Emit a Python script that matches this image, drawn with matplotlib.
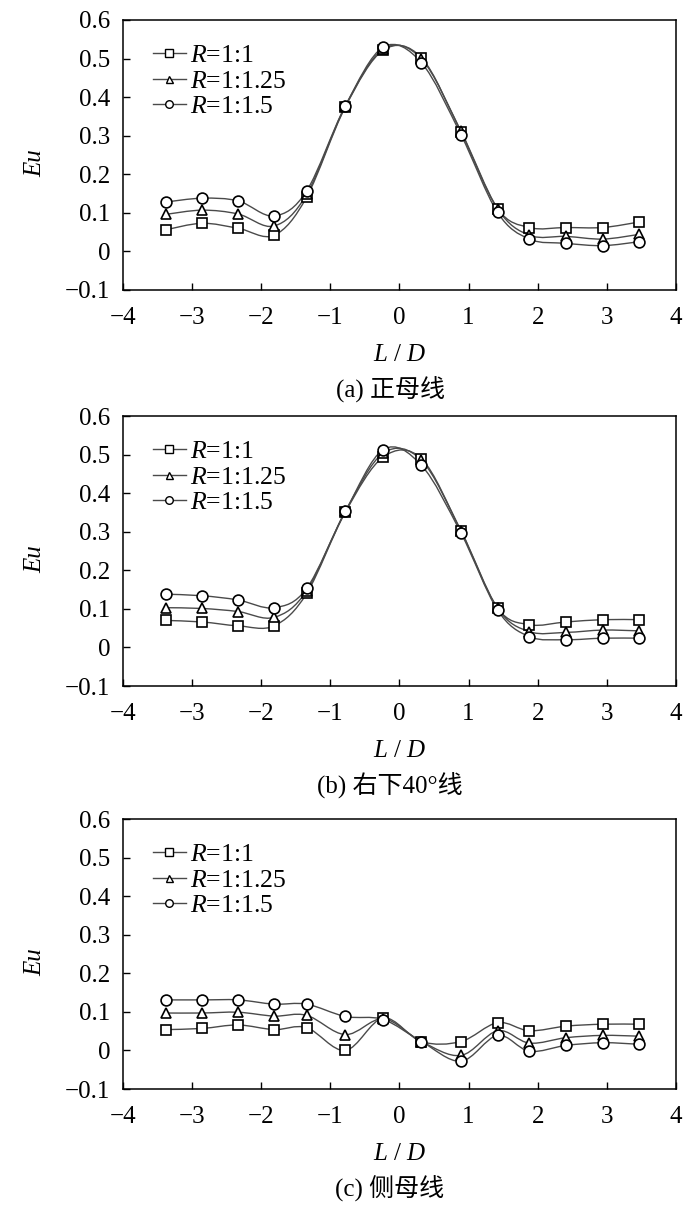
import numpy as np
import matplotlib
matplotlib.use("Agg")
import matplotlib.pyplot as plt
from matplotlib.path import Path
from matplotlib.patches import PathPatch
from matplotlib.lines import Line2D

plt.rcParams['font.family'] = ['Liberation Serif', 'Noto Sans CJK SC']
plt.rcParams['mathtext.fontset'] = 'custom'
plt.rcParams['mathtext.it'] = 'Liberation Serif:italic'
plt.rcParams['mathtext.rm'] = 'Liberation Serif'

# ---------------- data ----------------
x_pos = [-3.38, -2.85, -2.33, -1.81, -1.34, -0.78, -0.23, 0.32, 0.89, 1.42, 1.88, 2.41, 2.94, 3.46]

series_labels = ['$R$=1:1', '$R$=1:1.25', '$R$=1:1.5']

a_r1 = [0.056, 0.073, 0.060, 0.042, 0.141, 0.375, 0.522, 0.502, 0.310, 0.111, 0.062, 0.062, 0.062, 0.076]
a_r125 = [0.096, 0.107, 0.097, 0.066, 0.148, 0.377, 0.525, 0.499, 0.312, 0.111, 0.042, 0.039, 0.032, 0.044]
a_r15 = [0.128, 0.138, 0.131, 0.092, 0.157, 0.378, 0.530, 0.489, 0.303, 0.101, 0.032, 0.021, 0.015, 0.025]

b_r1 = [0.070, 0.066, 0.056, 0.056, 0.140, 0.351, 0.494, 0.489, 0.302, 0.102, 0.059, 0.066, 0.072, 0.072]
b_r125 = [0.103, 0.101, 0.093, 0.078, 0.147, 0.353, 0.504, 0.485, 0.303, 0.102, 0.041, 0.039, 0.045, 0.043]
b_r15 = [0.138, 0.134, 0.123, 0.103, 0.153, 0.353, 0.513, 0.472, 0.297, 0.097, 0.028, 0.020, 0.024, 0.024]

c_r1 = [0.054, 0.057, 0.066, 0.054, 0.059, 0.000, 0.084, 0.023, 0.023, 0.072, 0.051, 0.063, 0.068, 0.068]
c_r125 = [0.097, 0.097, 0.099, 0.089, 0.091, 0.041, 0.082, 0.023, -0.013, 0.051, 0.019, 0.033, 0.039, 0.037]
c_r15 = [0.131, 0.131, 0.131, 0.120, 0.120, 0.088, 0.080, 0.023, -0.028, 0.039, -0.002, 0.013, 0.020, 0.016]

captions = ['(a) 正母线', '(b) 右下40°线', '(c) 侧母线']
x_ticks = [-4, -3, -2, -1, 0, 1, 2, 3, 4]
y_ticks = [-0.1, 0, 0.1, 0.2, 0.3, 0.4, 0.5, 0.6]
y_ticklabels = ['\u22120.1', '0', '0.1', '0.2', '0.3', '0.4', '0.5', '0.6']
x_ticklabels = ['\u22124', '\u22123', '\u22122', '\u22121', '0', '1', '2', '3', '4']

panels = [(a_r1, a_r125, a_r15), (b_r1, b_r125, b_r15), (c_r1, c_r125, c_r15)]

# ---------------- style ----------------
W, H = 700, 1211
markers = ['s', '^', 'o']
msizes = [7.4, 7.2, 7.8]
line_color = '#4a4a4a'
panel_tops = [20, 416, 819]
ax_left, ax_right, ax_h = 122.7, 676.0, 270.0


def smooth_path(x, y):
    pts = np.column_stack([x, y]).astype(float)
    n = len(pts)
    verts = [pts[0]]
    codes = [Path.MOVETO]
    for i in range(n - 1):
        p0 = pts[i - 1] if i > 0 else pts[i]
        p1 = pts[i]
        p2 = pts[i + 1]
        p3 = pts[i + 2] if i + 2 < n else pts[i + 1]
        c1 = p1 + (p2 - p0) / 6.0
        c2 = p2 - (p3 - p1) / 6.0
        verts += [c1, c2, p2]
        codes += [Path.CURVE4] * 3
    return Path(np.array(verts), codes)


fig = plt.figure(figsize=(W / 100, H / 100), dpi=100)

for k, (series, top) in enumerate(zip(panels, panel_tops)):
    bottom = top + ax_h
    ax = fig.add_axes([ax_left / W, 1 - bottom / H, (ax_right - ax_left) / W, ax_h / H])
    ax.set_xlim(-4, 4)
    ax.set_ylim(-0.1, 0.6)
    for ys in series:
        patch = PathPatch(smooth_path(x_pos, ys), facecolor='none', edgecolor=line_color,
                          lw=1.0, zorder=2)
        ax.add_patch(patch)
    for ys, m, ms in zip(series, markers, msizes):
        ax.plot(x_pos, ys, linestyle='none', marker=m, markersize=ms, markerfacecolor='white',
                markeredgecolor='black', markeredgewidth=1.2, zorder=3)

    ax.set_xticks(x_ticks)
    ax.set_xticklabels(x_ticklabels)
    ax.set_yticks(y_ticks)
    ax.set_yticklabels(y_ticklabels)
    ax.tick_params(axis='both', direction='in', length=5, width=1.0, labelsize=18,
                   top=False, right=False)
    ax.tick_params(axis='y', pad=9)
    ax.tick_params(axis='x', pad=12)
    for sp in ax.spines.values():
        sp.set_linewidth(1.1)

    handles = [Line2D([0], [0], color=line_color, lw=1.0, marker=m, markersize=ms * 0.7,
                      markerfacecolor='white', markeredgecolor='black', markeredgewidth=1.0)
               for m, ms in zip(markers, msizes)]
    ax.legend(handles, series_labels, loc='upper left', bbox_to_anchor=(0.054, 0.91),
              frameon=False, fontsize=18.5, handlelength=1.3, handletextpad=0.15,
              labelspacing=0.1, borderpad=0, borderaxespad=0)

    fig.text(35 / W, 1 - (top + ax_h / 2 + 8) / H, 'Eu', fontstyle='italic', fontsize=18,
             rotation=90, ha='center', va='center')
    fig.text((ax_left + ax_right) / 2 / W, 1 - (bottom + 65) / H, '$L$ / $D$', fontsize=18,
             ha='center', va='center')
    fig.text(390 / W, 1 - (bottom + 100) / H, captions[k], fontsize=18,
             ha='center', va='center')

fig.savefig('out.png', dpi=100)
